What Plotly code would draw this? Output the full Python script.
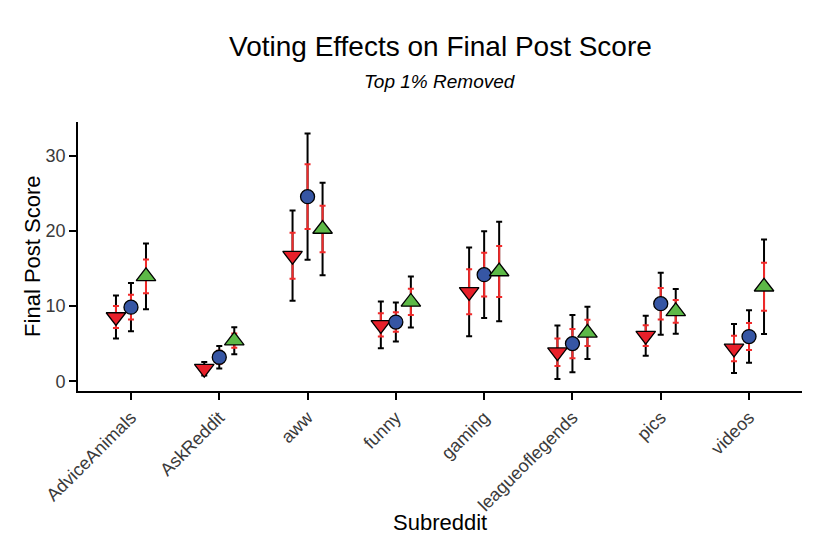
import plotly.graph_objects as go
import numpy as np

# --- data ---
subreddits = ["AdviceAnimals", "AskReddit", "aww", "funny", "gaming",
              "leagueoflegends", "pics", "videos"]

# downvoted (red down triangle), control (blue circle), upvoted (green up triangle)
down_mean = [8.55, 1.68, 16.7, 7.5, 11.9, 3.87, 6.07, 4.37]
down_ci = [2.85, 0.9, 6.0, 3.1, 5.9, 3.55, 2.66, 3.26]
down_se = [1.45, 0.46, 3.05, 1.55, 3.0, 1.82, 1.38, 1.69]

ctrl_mean = [9.86, 3.2, 24.55, 7.88, 14.18, 5.01, 10.32, 5.95]
ctrl_ci = [3.21, 1.5, 8.4, 2.59, 5.77, 3.81, 4.13, 3.5]
ctrl_se = [1.65, 0.85, 4.3, 1.29, 2.92, 1.95, 2.1, 1.8]

up_mean = [13.95, 5.4, 20.25, 10.55, 14.6, 6.44, 9.3, 12.57]
up_ci = [4.37, 1.8, 6.15, 3.39, 6.61, 3.46, 2.97, 6.28]
up_se = [2.25, 0.95, 3.1, 1.75, 3.39, 1.75, 1.5, 3.2]

yticks = [0, 10, 20, 30]

FONT = "Liberation Sans, Arial, sans-serif"
pos = np.arange(len(subreddits))
dodge = 0.17

groups = [
    (down_mean, down_ci, down_se, -dodge, "triangle-down", "#E8202A", "Downvoted"),
    (ctrl_mean, ctrl_ci, ctrl_se, 0.0, "circle", "#3656A4", "Control"),
    (up_mean, up_ci, up_se, dodge, "triangle-up", "#5DB947", "Upvoted"),
]

fig = go.Figure()
clear = dict(size=1, color="rgba(0,0,0,0)")

# 1. wide black bars (95% CI)
for mean, ci, se, off, sym, col, name in groups:
    fig.add_trace(go.Scatter(x=pos + off, y=mean, mode="markers", marker=clear,
                             error_y=dict(type="data", array=ci, color="black",
                                          thickness=2, width=3),
                             showlegend=False, hoverinfo="skip"))

# 2. red bars (SE)
for mean, ci, se, off, sym, col, name in groups:
    fig.add_trace(go.Scatter(x=pos + off, y=mean, mode="markers", marker=clear,
                             error_y=dict(type="data", array=se, color="#F02A2A",
                                          thickness=2, width=3),
                             showlegend=False, hoverinfo="skip"))

# 3. points
for mean, ci, se, off, sym, col, name in groups:
    size = 14 if sym == "circle" else 17
    fig.add_trace(go.Scatter(x=pos + off, y=mean, mode="markers", name=name,
                             marker=dict(symbol=sym, size=size, color=col,
                                         line=dict(color="black", width=1.3)),
                             showlegend=False))

# page body has an 8px margin, so the figure is a bit smaller than the window
fig.update_layout(
    width=822, height=546,
    paper_bgcolor="white", plot_bgcolor="white",
    margin=dict(l=70, r=28, t=114, b=163, autoexpand=False),
    font=dict(family=FONT, color="black"),
    showlegend=False,
)

fig.add_annotation(text="Voting Effects on Final Post Score", xref="paper", yref="paper",
                   x=0.5, y=1.281, showarrow=False, yanchor="middle",
                   font=dict(size=28, color="black"))
fig.add_annotation(text="<i>Top 1% Removed</i>", xref="paper", yref="paper",
                   x=0.5, y=1.151, showarrow=False, yanchor="middle",
                   font=dict(size=19, color="black"))
fig.add_annotation(text="Subreddit", xref="paper", yref="paper",
                   x=0.5, y=-0.49, showarrow=False, yanchor="middle",
                   font=dict(size=22, color="black"))
fig.add_annotation(text="Final Post Score", xref="paper", yref="paper",
                   x=-0.063, y=0.5, showarrow=False, textangle=-90,
                   xanchor="center", yanchor="middle",
                   font=dict(size=22, color="black"))

fig.update_xaxes(range=[-0.6, 7.6], tickvals=pos, ticktext=subreddits,
                 tickangle=-45, showgrid=False, zeroline=False, automargin=False,
                 showline=True, linecolor="black", linewidth=1.8,
                 ticks="outside", ticklen=7, tickwidth=1.5, tickcolor="black",
                 tickfont=dict(size=18, color="#3a3a3a"))
fig.update_yaxes(range=[-1.29, 34.48], tickvals=yticks, showgrid=False,
                 zeroline=False, showline=True, linecolor="black", linewidth=1.8,
                 automargin=False,
                 ticks="outside", ticklen=7, tickwidth=1.5, tickcolor="black",
                 tickfont=dict(size=18, color="#3a3a3a"))

fig.write_html("out.html")
